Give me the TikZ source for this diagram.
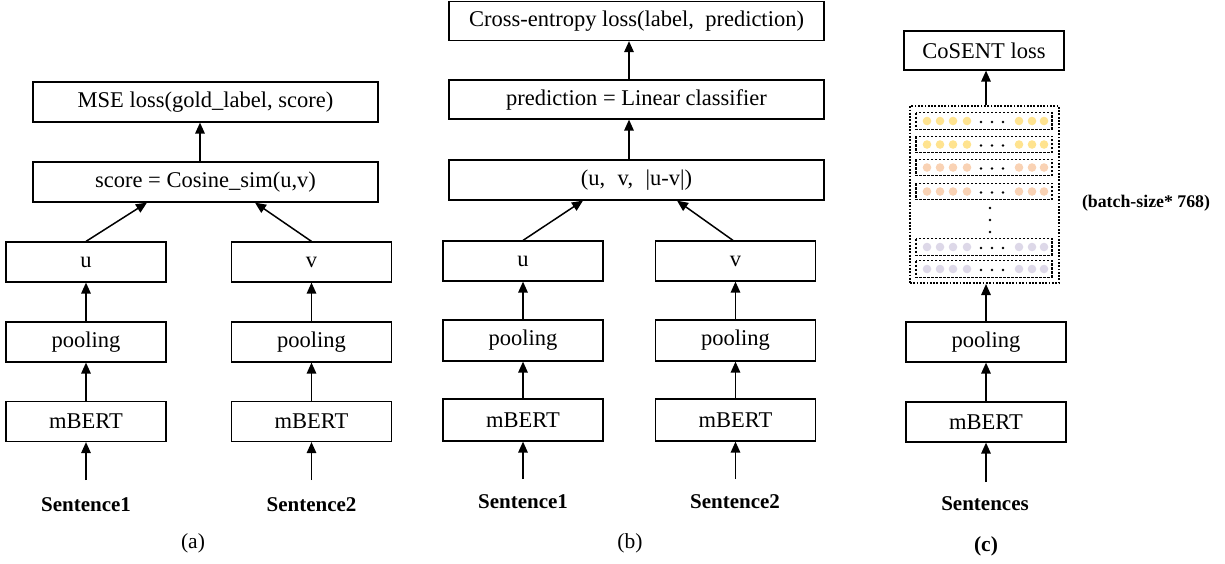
\documentclass[tikz,border=0pt]{standalone}
\usepackage{fontspec}
\setmainfont{Liberation Serif}
\usetikzlibrary{arrows.meta}
\definecolor{yel}{HTML}{FFE38F}
\definecolor{pch}{HTML}{F9D2B4}
\definecolor{lav}{HTML}{DDD8E8}
\tikzset{
  box/.style={draw, line width=1.2pt, inner sep=0pt, minimum height=40pt, font=\fontsize{22.5}{26}\selectfont},
  arr/.style={line width=1.5pt, -{Triangle[length=11pt,width=9.5pt]}},
  sent/.style={inner sep=0pt, font=\fontsize{21}{24}\selectfont\bfseries},
  captxt/.style={inner sep=0pt, font=\fontsize{21.5}{24}\selectfont},
  outerbox/.style={draw, line width=2pt, dash pattern=on 1.8pt off 1.5pt, inner sep=0pt},
  rowbox/.style={draw, line width=1.2pt, dash pattern=on 2.6pt off 1.4pt},
}
\begin{document}
\begin{tikzpicture}[x=1pt,y=-1pt]
\useasboundingbox (0,0) rectangle (1225,563);
% ---------------- panel (a)
\node[box, minimum width=345pt] (msea) at (205.5,102) {MSE loss(gold\_label, score)};
\node[box, minimum width=345pt] (scorea) at (205.5,182) {score = Cosine\_sim(u,v)};
\node[box, minimum width=160pt] (ua) at (86,262) {u};
\node[box, minimum width=160pt] (va) at (311.5,262) {v};
\node[box, minimum width=160pt] (poolua) at (86,342) {pooling};
\node[box, minimum width=160pt] (poolva) at (311.5,342) {pooling};
\node[box, minimum width=160pt] (bertua) at (86,421.5) {mBERT};
\node[box, minimum width=160pt] (bertva) at (311.5,421.5) {mBERT};
\node[sent] (s1a) at (86,505) {Sentence1};
\node[sent] (s2a) at (311.5,505) {Sentence2};
\node[captxt] (capa) at (193,543) {(a)};
\coordinate (in1a) at (86,480);
\coordinate (in2a) at (311.5,480);
\draw[arr] ([xshift=-5.5pt]scorea.north) -- ([xshift=-5.5pt]msea.south);
\draw[arr] (ua.north) -- ([xshift=-58.5pt]scorea.south);
\draw[arr] (va.north) -- ([xshift=49.5pt]scorea.south);
\draw[arr] (poolua) -- (ua);
\draw[arr] (poolva) -- (va);
\draw[arr] (bertua) -- (poolua);
\draw[arr] (bertva) -- (poolva);
\draw[arr] (in1a) -- (bertua);
\draw[arr] (in2a) -- (bertva);
% ---------------- panel (b)
\node[box, minimum width=375pt, minimum height=39pt] (ceb) at (636.5,21) {Cross-entropy loss(label,\hspace{0.5em}prediction)};
\node[box, minimum width=375pt, minimum height=39pt] (predb) at (636.5,99.5) {prediction = Linear classifier};
\node[box, minimum width=375pt] (uvb) at (636.5,180) {(u,\hspace{0.55em}v,\hspace{0.55em}|u-v|)};
\node[box, minimum width=160pt] (ub) at (523,261) {u};
\node[box, minimum width=160pt] (vb) at (735.5,261) {v};
\node[box, minimum width=160pt, minimum height=41pt] (poolub) at (523,340.5) {pooling};
\node[box, minimum width=160pt, minimum height=41pt] (poolvb) at (735.5,340.5) {pooling};
\node[box, minimum width=160pt, minimum height=42pt] (bertub) at (523,420) {mBERT};
\node[box, minimum width=160pt, minimum height=42pt] (bertvb) at (735.5,420) {mBERT};
\node[sent] (s1b) at (523,502) {Sentence1};
\node[sent] (s2b) at (735,502) {Sentence2};
\node[captxt] (capb) at (630,543) {(b)};
\coordinate (in1b) at (523,479);
\coordinate (in2b) at (735.5,479);
\draw[arr] ([xshift=-7.5pt]predb.north) -- ([xshift=-7.5pt]ceb.south);
\draw[arr] ([xshift=-7.5pt]uvb.north) -- ([xshift=-7.5pt]predb.south);
\draw[arr] (ub.north) -- ([xshift=-53.5pt]uvb.south);
\draw[arr] ([xshift=-2.5pt]vb.north) -- ([xshift=40.5pt]uvb.south);
\draw[arr] (poolub) -- (ub);
\draw[arr] (poolvb) -- (vb);
\draw[arr] (bertub) -- (poolub);
\draw[arr] (bertvb) -- (poolvb);
\draw[arr] (in1b) -- (bertub);
\draw[arr] (in2b) -- (bertvb);
% ---------------- panel (c)
\node[box, minimum width=160pt, minimum height=39pt] (cosc) at (984,50.5) {CoSENT loss};
\node[outerbox, minimum width=149pt, minimum height=177pt] (embc) at (984.5,194.5) {};
\node[box, minimum width=160pt] (poolc) at (986,342) {pooling};
\node[box, minimum width=160pt] (bertc) at (986,422) {mBERT};
\node[sent] (sc) at (985,504) {Sentences};
\node[captxt] (capc) at (986,546) {\bfseries(c)};
\node[inner sep=0pt, font=\fontsize{17.8}{20}\selectfont\bfseries] (bsz) at (1146,203) {(batch-size* 768)};
\coordinate (inc) at (986,482);
\foreach \yy/\cc in {121/yel,144.5/yel,167.5/pch,191.5/pch,247/lav,269/lav}{
  \draw[rowbox] (916,\yy-8.3) rectangle (1052,\yy+8.3);
  \foreach \xx in {927,940,953,967,1019,1032,1044}
    \fill[\cc] (\xx,\yy) circle (4.3pt);
  \foreach \xx in {981,992,1003}
    \fill (\xx,\yy+1) circle (1.3pt);
}
\foreach \yy in {208,220,232}
  \fill (990,\yy) circle (1.3pt);
\draw[arr] (embc.north -| cosc.south) ++(2pt,0) -- ([xshift=2pt]cosc.south);
\draw[arr] (poolc.north) -- (poolc.north |- embc.south);
\draw[arr] (bertc) -- (poolc);
\draw[arr] (inc) -- (bertc);
\end{tikzpicture}
\end{document}
